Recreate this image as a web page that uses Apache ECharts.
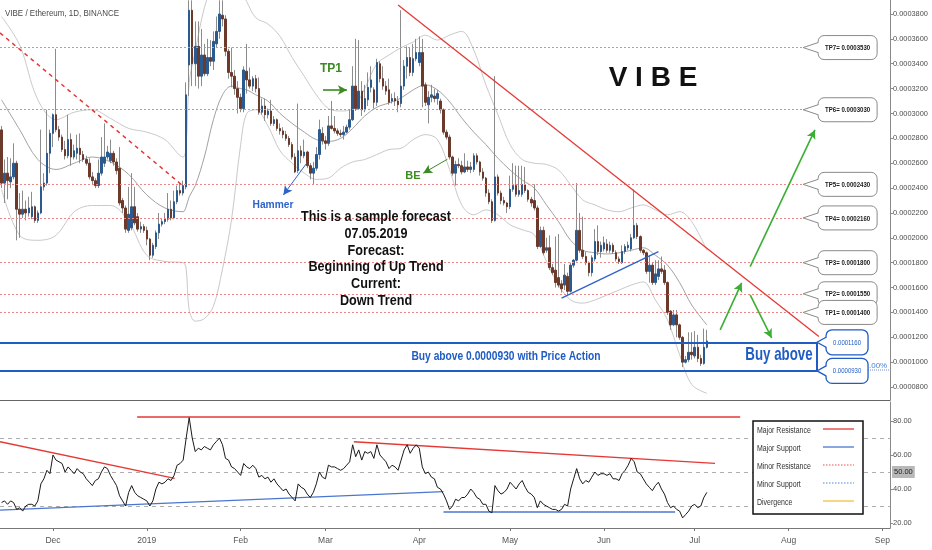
<!DOCTYPE html>
<html><head><meta charset="utf-8">
<script src="https://cdn.jsdelivr.net/npm/echarts@6/dist/echarts.min.js"></script>
<style>html,body{margin:0;padding:0;background:#fff}#c{width:932px;height:550px}</style>
</head><body><div id="c"></div>
<script>
// ---------- DATA (prices in units of 1e-7 ETH) ----------
const startDay = Date.UTC(2018, 10, 14);
const totalDays = 294;
const open = [2868,2440,2520,2450,2490,2600,2230,2190,2230,2200,2170,2250,2140,2200,2410,2440,2680,2840,2990,2870,2810,2710,2660,2790,2650,2680,2720,2670,2630,2600,2490,2460,2420,2520,2600,2650,2620,2680,2610,2560,2300,2240,2060,2080,2250,2170,2070,2090,2060,1990,1860,1930,2040,2110,2130,2150,2230,2160,2290,2380,2360,2410,3390,3830,3400,3540,3300,3470,3320,3450,3420,3560,3660,3790,3760,3500,3330,3300,3200,3130,3040,3340,3270,3220,3280,3200,3010,3060,2990,3020,2920,2950,2880,2860,2830,2800,2750,2650,2540,2700,2660,2690,2580,2520,2560,2670,2840,2780,2760,2900,2880,2860,2840,2830,2850,2890,2950,3220,3040,3180,3030,3110,3210,3190,3090,3400,3280,3220,3190,3100,3120,3100,3080,3220,3380,3450,3330,3440,3410,3490,3230,3070,3130,3140,3120,3100,3030,2850,2810,2650,2520,2590,2580,2530,2570,2550,2550,2660,2610,2530,2480,2360,2290,2140,2490,2360,2300,2280,2250,2390,2420,2350,2350,2430,2380,2310,2300,2240,1930,2060,1900,1920,1760,1740,1680,1630,1620,1690,1570,1780,1820,2060,1900,1850,1800,1720,1830,1970,1890,1910,1950,1900,1940,1880,1830,1800,1890,1920,1910,2000,2100,2010,1900,1880,1730,1780,1640,1690,1750,1740,1640,1410,1300,1380,1300,1200,1000,1020,1080,1050,1120,1030,990,1120];
const high = [2900,2630,2650,2640,2760,2620,2360,2380,2300,2330,2370,2260,2220,2870,2520,3030,2870,3000,3520,2900,2830,2780,2990,2840,2750,2830,2840,2700,2660,2640,2530,2480,2630,2810,2920,2740,2790,2700,2640,2730,2320,2260,2410,2520,2410,2200,2130,2110,2090,2000,1960,2060,2200,2160,2200,2360,2300,2380,2420,2440,2460,3250,3910,3910,3740,3740,3680,3560,3600,3590,3660,3780,3910,3910,3790,3520,3530,3350,3260,3160,3380,3560,3370,3300,3310,3290,3120,3120,3040,3110,2980,2960,2920,2890,2860,2820,2770,2680,3080,2740,2790,2700,2600,2610,2730,2950,2890,2820,2980,3100,2980,2880,2870,2900,2910,3030,3380,3600,3590,3260,3230,3330,3380,3210,3440,3420,3380,3260,3280,3160,3170,3140,3830,3430,3540,3530,3560,3600,3620,3600,3250,3180,3230,3200,3190,3120,3040,2870,2830,2660,2620,2640,2620,2680,2620,2610,2680,2680,2620,2560,2490,2390,2310,3300,2510,2380,2330,2290,2500,2600,2580,2580,2580,2570,2390,2330,2430,2260,2090,2090,2000,2020,1790,2010,2030,1660,1790,1720,1800,1830,2440,2200,2170,1890,1810,1860,2070,2100,1970,2010,1990,1970,1960,1900,1850,1940,1950,1970,2030,2390,2120,2020,1910,1890,1860,1800,1820,1820,1850,1780,1650,1420,1420,1420,1310,1210,1050,1240,1240,1250,1220,1060,1270,1260];
const low = [2400,2280,2310,2400,2470,1980,2000,2160,2140,2170,2150,2120,2120,2190,2380,2420,2520,2730,2850,2780,2690,2630,2640,2580,2630,2630,2600,2610,2580,2470,2430,2400,2400,2500,2570,2630,2600,2580,2510,2260,2200,2040,2040,2060,2100,2050,2040,2040,1940,1820,1840,1910,1990,2090,2110,2130,2140,2150,2270,2340,2340,2390,3140,3220,3220,3200,3220,3300,3300,3380,3350,3530,3600,3700,3460,3280,3210,3150,3000,3010,3010,3160,3200,3180,3170,2990,2990,2940,2960,2900,2900,2860,2830,2800,2780,2730,2630,2520,2520,2600,2640,2560,2470,2430,2540,2630,2750,2710,2740,2870,2840,2820,2810,2790,2840,2870,2940,3020,3030,2980,3010,3060,3170,3040,3060,3250,3190,3150,3070,3080,3060,3010,3050,3190,3280,3300,3300,3420,3380,3050,3060,2920,3090,3090,3070,3000,2830,2790,2630,2500,2420,2560,2510,2520,2530,2520,2530,2590,2500,2460,2330,2270,2120,2130,2340,2270,2260,2200,2230,2370,2330,2330,2330,2360,2290,2250,2220,1910,1920,1860,1880,1740,1700,1600,1600,1560,1580,1540,1560,1760,1810,1880,1830,1780,1690,1690,1810,1860,1840,1890,1880,1880,1870,1810,1790,1790,1870,1900,1890,1990,1990,1880,1860,1710,1640,1620,1620,1660,1710,1620,1380,1260,1290,1200,1180,960,990,1000,1020,1030,1000,970,980,1110];
const close = [2440,2520,2460,2490,2600,2230,2190,2230,2200,2240,2250,2140,2200,2410,2440,2680,2840,2990,2870,2810,2710,2660,2790,2650,2700,2720,2670,2630,2600,2490,2460,2420,2520,2650,2650,2690,2680,2610,2540,2280,2240,2070,2190,2250,2120,2070,2090,2060,1990,1860,1940,2040,2110,2130,2150,2230,2160,2290,2380,2360,2420,3150,3830,3400,3540,3300,3470,3320,3450,3420,3580,3660,3800,3760,3500,3330,3300,3200,3130,3040,3350,3270,3220,3280,3200,3010,3060,2990,3020,2920,2950,2880,2860,2830,2800,2750,2650,2530,2700,2660,2690,2580,2520,2560,2670,2870,2780,2760,2900,2880,2860,2840,2830,2850,2890,2950,3220,3040,3180,3030,3120,3210,3270,3090,3410,3280,3220,3180,3090,3120,3100,3070,3220,3380,3450,3330,3440,3490,3490,3220,3090,3130,3150,3120,3160,3030,2850,2810,2650,2520,2590,2580,2530,2570,2550,2570,2660,2610,2530,2480,2360,2290,2140,2490,2360,2300,2280,2250,2390,2420,2350,2380,2430,2380,2310,2280,2240,1930,2060,1880,1920,1760,1720,1640,1620,1590,1700,1570,1780,1820,2060,1900,1850,1800,1720,1840,1970,1890,1940,1960,1900,1940,1890,1830,1810,1890,1930,1940,2000,2100,2010,1900,1880,1730,1780,1640,1710,1750,1730,1640,1400,1300,1380,1300,1200,1000,1020,1080,1060,1120,1030,990,1120,1170];
const rsi = [32,33,31,33,32,28,29,27,30,31,31,30,33,43,46,51,49,60,57,56,55,50,53,51,49,52,50,49,46,44,42,45,46,50,53,52,48,45,42,36,33,30,38,42,38,36,35,34,33,30,33,40,44,43,44,46,45,48,54,55,57,70,82,70,62,64,63,65,64,63,66,68,70,66,58,57,53,52,50,48,55,53,52,54,52,47,48,46,47,44,46,43,41,39,40,37,35,33,43,41,40,37,35,38,43,50,47,46,54,53,53,52,51,52,54,56,66,59,63,57,62,61,62,58,66,60,58,56,52,54,53,51,57,63,66,61,64,66,64,53,49,50,47,46,41,40,37,33,28,30,34,33,35,35,37,40,38,35,34,31,31,27,26,42,39,37,38,40,44,42,40,43,45,41,38,37,35,29,33,31,30,29,28,28,27,28,31,30,40,46,52,46,43,45,44,47,50,48,49,49,48,49,46,46,45,49,51,54,58,56,50,49,46,43,41,39,42,44,40,37,32,29,30,28,27,23,25,27,30,31,29,30,35,38];
// Bollinger band readings (day index, upper, middle, lower)
const bandIdx = [0,6,12,18,24,30,36,42,48,54,60,61,62,64,67,70,73,76,79,81,84,88,92,96,100,104,108,112,116,120,124,128,132,136,140,144,148,152,156,160,164,168,172,176,180,184,188,192,196,200,204,208,212,216,220,224,228,233];
const bandUpper = [3780,3550,3110,2950,3010,3030,2960,2880,2850,2790,2650,2750,3250,3500,3850,4050,4200,4250,4000,3900,3770,3720,3620,3450,3300,3150,3040,3020,3040,3200,3400,3470,3530,3575,3630,3590,3630,3660,3510,3230,2990,2750,2630,2600,2590,2545,2425,2305,2265,2225,2210,2240,2265,2225,2185,2210,2130,1900];
const bandMid = [3110,2870,2630,2550,2600,2650,2610,2510,2345,2240,2210,2250,2330,2420,2650,2950,3150,3220,3200,3190,3150,3100,3000,2920,2850,2790,2775,2800,2880,2980,3050,3085,3125,3190,3230,3190,3095,2965,2850,2750,2640,2545,2465,2400,2265,2130,1980,1900,1880,1870,1880,1900,1920,1860,1780,1640,1460,1300];
const bandLower = [2390,2020,1980,2020,2210,2260,2260,2130,1860,1810,1800,1750,1420,1330,1350,1450,1750,2150,2750,3000,3030,2900,2700,2600,2520,2470,2480,2560,2610,2630,2670,2710,2720,2790,2830,2790,2550,2265,2185,2225,2185,2105,2065,2025,1810,1620,1500,1475,1500,1540,1580,1620,1645,1500,1340,1060,820,750];
const priceTicks = [800,1000,1200,1400,1600,1800,2000,2200,2400,2600,2800,3000,3200,3400,3600,3800];
const rsiTicks = [20,40,60,80];
const tpNames = ['TP7','TP6','TP5','TP4','TP3','TP2','TP1'];
const tpLevels = [3530,3030,2430,2160,1800,1550,1400];
const buyLevels = [1160,930];
// annotation geometry in data units: [day index, price]
const resistanceLine = [[131,3873],[270,1207]];
const oldResistanceLine = [[-0.5,3648],[60,2417]];
const supportLine = [[185,1515],[217,1889]];
const forecastArrows = [[[237.4,1260],[244.5,1638]],[[247.3,1541],[254.4,1195]],[[247.3,1769],[268.7,2868]]];
const tp1Arrow = [[106.2,3189],[114.1,3189]];
const beArrow = [[147.3,2632],[139.3,2520]];
const hammerArrow = [[100.8,2600],[93.1,2345]];
const tpCalloutIdx = 264.8;
const buyCalloutIdx = 269.4;
// RSI annotations [day index, RSI]
const rsiLevels = [70,50,30];
const rsiTopResistance = [[44.8,82.5],[244,82.5]];
const rsiResistance1 = [[-0.5,67.8],[57.2,46.3]];
const rsiSupport1 = [[-0.5,27.6],[146,38.4]];
const rsiResistance2 = [[116.4,67.8],[235.7,55.1]];
const rsiSupport2 = [[146,26.7],[222.5,26.7]];

// ---------- CHART ----------
const NARROW = "'Liberation Sans Narrow','Arial Narrow','Liberation Sans',Arial,sans-serif";
const SANS = "'Liberation Sans',Arial,sans-serif";
const dates = Array.from({length: totalDays}, (_, k) => new Date(startDay + k * 864e5).toISOString().slice(0, 10));
const monthAbbr = ['Jan','Feb','Mar','Apr','May','Jun','Jul','Aug','Sep','Oct','Nov','Dec'];
const isMonthStart = (i, v) => v.slice(8) === '01';
const monthLabel = v => { const m = +v.slice(5, 7); return m === 1 ? v.slice(0, 4) : monthAbbr[m - 1]; };
const fmtPrice = v => (v / 1e7).toFixed(7);
const PRICE_MAX = 3912.6, PRICE_MIN = 695.8;
const RSI_MAX = 91.18, RSI_MIN = 17.06;
const X_MIN = -0.5, X_MAX = totalDays - 0.5;

const RED = '#e53935', BLUE = '#2f63c8', GREEN = '#3cae34', DKGREEN = '#3b8a22', TPRED = '#ef8585', BOX = '#1f5cc4';

const candleBody = open.map((o, k) => [o, close[k], Math.min(o, close[k]), Math.max(o, close[k])]);
const candleFull = open.map((o, k) => [o, close[k], low[k], high[k]]);

function seg(a, b, lineStyle, arrow) {
  return [{coord: a, symbol: 'none'},
          {coord: b, symbol: arrow ? 'arrow' : 'none', symbolSize: arrow ? [7, 9] : 0, lineStyle: lineStyle}];
}

const mainLines = [];
tpLevels.forEach(lv => mainLines.push(seg([X_MIN, lv], [tpCalloutIdx, lv], {color: TPRED, width: 1, type: [2, 2]})));
const priceLines = [];
buyLevels.forEach(lv => priceLines.push(seg([X_MIN, lv], [buyCalloutIdx, lv], {color: BOX, width: 2, type: 'solid'})));
priceLines.push(seg([buyCalloutIdx, buyLevels[0]], [buyCalloutIdx, buyLevels[1]], {color: BOX, width: 2, type: 'solid'}));
priceLines.push(seg(resistanceLine[0], resistanceLine[1], {color: RED, width: 1.3, type: 'solid'}));
priceLines.push(seg(oldResistanceLine[0], oldResistanceLine[1], {color: RED, width: 1.5, type: [4, 4]}));
priceLines.push(seg(supportLine[0], supportLine[1], {color: BLUE, width: 1.3, type: 'solid'}));
forecastArrows.forEach(a => priceLines.push(seg(a[0], a[1], {color: GREEN, width: 1.6, type: 'solid'}, true)));
priceLines.push(seg(tp1Arrow[0], tp1Arrow[1], {color: DKGREEN, width: 1.6, type: 'solid'}, true));
priceLines.push(seg(beArrow[0], beArrow[1], {color: DKGREEN, width: 1, type: 'solid'}, true));
priceLines.push(seg(hammerArrow[0], hammerArrow[1], {color: BLUE, width: 1, type: 'solid'}, true));

const rsiLines = [];
rsiLevels.forEach(lv => rsiLines.push(seg([X_MIN, lv], [X_MAX, lv], {color: '#adadad', width: 1, type: [4, 4]})));
rsiLines.push(seg(rsiTopResistance[0], rsiTopResistance[1], {color: RED, width: 1.5, type: 'solid'}));
rsiLines.push(seg(rsiResistance1[0], rsiResistance1[1], {color: RED, width: 1.3, type: 'solid'}));
rsiLines.push(seg(rsiResistance2[0], rsiResistance2[1], {color: RED, width: 1.3, type: 'solid'}));
rsiLines.push(seg(rsiSupport1[0], rsiSupport1[1], {color: '#4a76cf', width: 1.3, type: 'solid'}));
rsiLines.push(seg(rsiSupport2[0], rsiSupport2[1], {color: '#4a76cf', width: 1.5, type: 'solid'}));

const bandLine = (vals, color) => ({
  type: 'line', xAxisIndex: 2, yAxisIndex: 0, data: bandIdx.map((x, k) => [x, vals[k]]),
  smooth: 0.35, symbol: 'none', lineStyle: {color: color, width: 1}, z: 1, silent: true
});

const txt = (x, y, text, font, fill, align, sx) => ({type: 'text', x: x, y: y, scaleX: sx || 1, silent: true, z: 50,
  style: {text: text, font: font, fill: fill, align: align || 'center', verticalAlign: 'middle',
          textAlign: align || 'center', textVerticalAlign: 'middle'}});

const forecastText = ['This is a sample forecast', '07.05.2019', 'Forecast:', 'Beginning of Up Trend', 'Current:', 'Down Trend'];
const legendItems = [['Major Resistance', RED, 'solid'], ['Major Support', '#4a76cf', 'solid'],
  ['Minor Resistance', '#f08a8a', 'dotted'], ['Minor Support', '#8aaee8', 'dotted'], ['Divergence', '#f0c040', 'solid']];

const graphics = [
  txt(5, 13, 'VIBE / Ethereum, 1D, BINANCE', '9.5px ' + SANS, '#4a4a4a', 'left', 0.84),
  txt(653, 78, 'V I B E', 'bold 28px ' + SANS, '#111'),
  txt(331, 69, 'TP1', 'bold 12px ' + SANS, DKGREEN),
  txt(413, 176, 'BE', 'bold 11px ' + SANS, DKGREEN),
  txt(273, 205, 'Hammer', 'bold 11px ' + SANS, BLUE, 'center', 0.93),
  txt(506, 357, 'Buy above 0.0000930 with Price Action', 'bold 12.5px ' + SANS, BOX, 'center', 0.82),
  txt(779, 355, 'Buy above', 'bold 19px ' + SANS, BOX, 'center', 0.7),
  txt(869, 366, '.00%', '8px ' + SANS, '#4a7fd0', 'left'),
  {type: 'line', silent: true, z: 50, shape: {x1: 868, y1: 370, x2: 889, y2: 370}, style: {stroke: '#6f93d8', lineWidth: 1, lineDash: [1, 1]}}
];
forecastText.forEach((t, k) => graphics.push(txt(376, 217 + k * 16.8, t, 'bold 14.5px ' + SANS, '#111', 'center', 0.87)));
// legend box of the RSI pane
const LX = 753, LY = 421;
graphics.push({type: 'rect', z: 80, silent: true, shape: {x: LX, y: LY, width: 110, height: 93}, style: {fill: '#fff', stroke: '#111', lineWidth: 1.5}});
legendItems.forEach((it, k) => {
  graphics.push({type: 'text', z: 81, silent: true, x: LX + 4, y: LY + 10 + k * 17.8, scaleX: 0.82,
    style: {text: it[0], font: '8.5px ' + SANS, fill: '#333', verticalAlign: 'middle', textVerticalAlign: 'middle'}});
  graphics.push({type: 'line', z: 81, silent: true, shape: {x1: LX + 70, y1: LY + 8 + k * 18, x2: LX + 101, y2: LY + 8 + k * 18},
    style: {stroke: it[1], lineWidth: 1.3, lineDash: it[2] === 'dotted' ? [1.5, 1.5] : null}});
});

const chart = echarts.init(document.getElementById('c'), null, {renderer: 'canvas'});
chart.setOption({
  animation: false,
  backgroundColor: '#ffffff',
  textStyle: {fontFamily: SANS},
  grid: [{left: 0, right: 42, top: 0, height: 400}, {left: 0, right: 42, top: 402, height: 126}],
  xAxis: [
    {type: 'category', gridIndex: 0, data: dates, axisLine: {show: true, onZero: false, lineStyle: {color: '#666'}},
     axisTick: {show: false}, axisLabel: {show: false}, splitLine: {show: false}},
    {type: 'category', gridIndex: 1, data: dates, axisLine: {show: true, onZero: false, lineStyle: {color: '#777'}},
     axisTick: {show: true, alignWithLabel: true, interval: isMonthStart, length: 3, lineStyle: {color: '#777'}},
     axisLabel: {interval: isMonthStart, formatter: monthLabel, color: '#555', fontSize: 8.5, margin: 8, fontFamily: NARROW},
     splitLine: {show: false}},
    {type: 'value', gridIndex: 0, min: X_MIN, max: X_MAX, show: false, axisLine: {onZero: false}},
    {type: 'value', gridIndex: 1, min: X_MIN, max: X_MAX, show: false, axisLine: {onZero: false}}
  ],
  yAxis: [
    {type: 'value', gridIndex: 0, position: 'right', min: PRICE_MIN, max: PRICE_MAX, scale: true,
     splitLine: {show: false}, axisLine: {show: true, onZero: false, lineStyle: {color: '#8a8a8a'}},
     axisTick: {show: true, length: 3, customValues: priceTicks, lineStyle: {color: '#8a8a8a'}},
     axisLabel: {customValues: priceTicks, formatter: fmtPrice, color: '#4d4d4d', fontSize: 7.4, margin: 3, fontFamily: NARROW}},
    {type: 'value', gridIndex: 1, position: 'right', min: RSI_MIN, max: RSI_MAX, scale: true,
     splitLine: {show: false}, axisLine: {show: true, onZero: false, lineStyle: {color: '#8a8a8a'}},
     axisTick: {show: true, length: 3, customValues: rsiTicks, lineStyle: {color: '#8a8a8a'}},
     axisLabel: {customValues: rsiTicks, formatter: v => v.toFixed(2), color: '#4d4d4d', fontSize: 7.5, margin: 3, fontFamily: NARROW}}
  ],
  series: [
    bandLine(bandUpper, '#c9c9c9'),
    bandLine(bandLower, '#c9c9c9'),
    bandLine(bandMid, '#a2a2a2'),
    {type: 'line', xAxisIndex: 2, yAxisIndex: 0, data: [], z: 2, silent: true,
     markLine: {silent: true, symbol: ['none', 'none'], label: {show: false}, animation: false, data: mainLines}},
    {type: 'candlestick', name: 'wick', xAxisIndex: 0, yAxisIndex: 0, data: candleFull, barWidth: 1, z: 3, silent: true,
     itemStyle: {color: '#8c8c8c', color0: '#8c8c8c', borderColor: '#8c8c8c', borderColor0: '#8c8c8c', borderWidth: 1}},
    {type: 'candlestick', name: 'body', xAxisIndex: 0, yAxisIndex: 0, data: candleBody, barWidth: 2, z: 4, silent: true,
     itemStyle: {color: '#2b5b8e', color0: '#6c3a2b', borderColor: '#2b5b8e', borderColor0: '#6c3a2b', borderWidth: 1}},
    {type: 'line', xAxisIndex: 2, yAxisIndex: 0, data: [], z: 6, silent: true,
     markLine: {silent: true, symbol: ['none', 'none'], label: {show: false}, animation: false, data: priceLines}},
    {type: 'line', xAxisIndex: 3, yAxisIndex: 1, data: [], z: 2, silent: true,
     markLine: {silent: true, symbol: ['none', 'none'], label: {show: false}, animation: false, data: rsiLines}},
    {type: 'line', xAxisIndex: 1, yAxisIndex: 1, data: rsi, symbol: 'none', z: 5, silent: true,
     lineStyle: {color: '#1a1a1a', width: 1},
     markLine: {silent: true, symbol: ['none', 'none'], animation: false, lineStyle: {color: 'rgba(0,0,0,0)'},
       label: {show: true, position: 'end', distance: 2, formatter: '50.00', backgroundColor: '#b8b8b8', color: '#222',
               padding: [2, 2], fontSize: 7.5, fontFamily: NARROW},
       data: [{yAxis: 50}]}}
  ],
  graphic: graphics
});

// speech-bubble callouts placed through the chart's own scales
function bubble(tipX, y, gap, w, h, stroke, lw, text, font, color, sx) {
  const bx = tipX + gap;
  return [
    {type: 'rect', z: 70, silent: true, shape: {x: bx, y: y - h / 2, width: w, height: h, r: 6}, style: {fill: '#fff', stroke: stroke, lineWidth: lw}},
    {type: 'polygon', z: 71, silent: true, shape: {points: [[bx + lw, y - 5], [tipX, y], [bx + lw, y + 5]]}, style: {fill: '#fff'}},
    {type: 'polyline', z: 72, silent: true, shape: {points: [[bx, y - 5], [tipX, y], [bx, y + 5]]}, style: {stroke: stroke, lineWidth: lw, fill: null}},
    {type: 'text', z: 73, silent: true, x: bx + w / 2, y: y + 0.5, scaleX: sx,
     style: {text: text, font: font, fill: color, align: 'center', verticalAlign: 'middle', textAlign: 'center', textVerticalAlign: 'middle'}}
  ];
}
const extra = [];
const tpTipX = chart.convertToPixel({xAxisIndex: 2}, tpCalloutIdx);
tpLevels.forEach((lv, k) => {
  const y = chart.convertToPixel({yAxisIndex: 0}, lv);
  extra.push(...bubble(tpTipX, y, 15, 59, 24, '#8a8a8a', 1, tpNames[k] + '= ' + fmtPrice(lv), 'bold 8px ' + SANS, '#1a1a1a', 0.76));
});
const buyTipX = chart.convertToPixel({xAxisIndex: 2}, buyCalloutIdx);
buyLevels.forEach(lv => {
  const y = chart.convertToPixel({yAxisIndex: 0}, lv);
  extra.push(...bubble(buyTipX, y, 9, 42, 25, BOX, 1.3, fmtPrice(lv), '7.5px ' + SANS, BOX, 0.8));
});
chart.setOption({graphic: graphics.concat(extra)});
</script></body></html>
